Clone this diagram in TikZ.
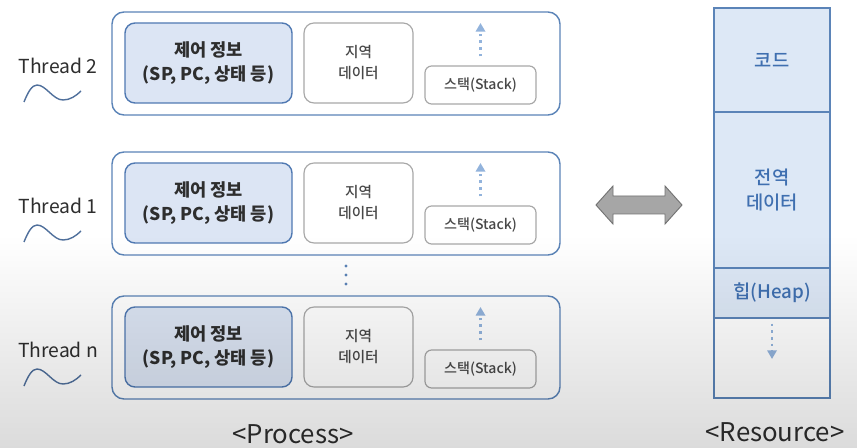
\documentclass[tikz,border=0pt]{standalone}
\usepackage{fontspec}
\setmainfont{Noto Sans CJK KR}
\newfontfamily\medfont{Noto Sans CJK KR Medium}
\usetikzlibrary{arrows.meta,fadings}
\definecolor{frameblue}{HTML}{5B84B8}
\definecolor{ctrlblue}{HTML}{5079B2}
\definecolor{ctrlfill}{HTML}{DCE5F4}
\definecolor{resfill}{HTML}{DDE8F6}
\definecolor{boxgray}{HTML}{A8A8A8}
\definecolor{textdark}{HTML}{2E2E2E}
\definecolor{textgray}{HTML}{484848}
\definecolor{textblue}{HTML}{3F6FB0}
\definecolor{dotblue}{HTML}{92B3DC}
\definecolor{wavecol}{HTML}{50709C}
\tikzfading[name=fadedown, top color=transparent!100, bottom color=transparent!0]

\begin{document}
\begin{tikzpicture}[x=0.3mm, y=-0.3mm,
    threadbox/.style={draw=frameblue, line width=1.2pt, rounded corners=3.6mm,
      minimum width=134.4mm, minimum height=30.9mm},
    ctrlbox/.style={draw=ctrlblue, fill=ctrlfill, line width=1.2pt, rounded corners=3mm,
      minimum width=50.1mm, minimum height=24mm, align=center, text=textdark,
      font=\fontsize{15}{20.4}\selectfont\bfseries},
    localbox/.style={draw=boxgray, fill=white, line width=1pt, rounded corners=3mm,
      minimum width=32.7mm, minimum height=24mm, align=center, text=textgray,
      font=\medfont\fontsize{12.5}{17.9}\selectfont},
    stackbox/.style={draw=boxgray, fill=white, line width=1pt, rounded corners=2mm,
      minimum width=33.3mm, minimum height=11.4mm, text=textgray,
      font=\medfont\fontsize{12}{14}\selectfont},
    resbox/.style={draw=frameblue, line width=1pt, minimum width=34.8mm, inner sep=0pt,
      align=center, text=textblue, font=\medfont\fontsize{16}{22}\selectfont},
    growarrow/.style={-{Triangle[width=2.8mm, length=2.6mm]}, dotblue, line width=0.8mm,
      dash pattern=on 0.8mm off 1.2mm},
    wave/.style={wavecol, line width=1.2pt},
    labelnode/.style={text=textdark, font=\fontsize{16.5}{20}\selectfont},
    titlenode/.style={text=textdark, font=\fontsize{22}{26}\selectfont}]
\useasboundingbox (0,0) rectangle (858,448);
\fill[white] (0,0) rectangle (858,448);
% threads
\foreach \name/\t/\lbl in {two/12/Thread 2, one/152/Thread 1, n/296/Thread n} {
    \node[threadbox] (thread-\name) at (336,\t+51.5) {};
    \node[ctrlbox] (ctrl-\name) at (208.5,\t+51) {제어 정보\\(SP, PC, 상태 등)};
    \node[localbox] (local-\name) at (358.5,\t+51) {지역\\데이터};
    \node[stackbox] (stack-\name) at (480.5,\t+73) {스택(Stack)};
    \coordinate (top-\name) at (480.5,\t+11);
    \draw[growarrow, shorten <=2.7mm] (stack-\name.north) -- (top-\name);
    \node[labelnode] (label-\name) at (58,\t+54) {\lbl};
    \draw[wave] (24,\t+90) .. controls (28,\t+80) and (32,\t+73) .. (37,\t+73)
        .. controls (46,\t+73) and (53,\t+88) .. (63,\t+88)
        .. controls (70,\t+88) and (76,\t+84) .. (81,\t+79);
}
% more threads
\foreach \y in {266,275,284} {
    \fill[frameblue] (346,\y) circle (1.7);
}
% resource column
\node[resbox, fill=resfill, minimum height=31.2mm] (code) at (772,60) {코드};
\node[resbox, fill=resfill, minimum height=46.8mm] (global) at (772,190) {전역\\데이터};
\node[resbox, fill=resfill, minimum height=15mm] (heap) at (772,293) {힙(Heap)};
\node[resbox, minimum height=24mm] (free) at (772,358) {};
\coordinate (heapend) at (772,359);
\draw[growarrow, shorten <=1.5mm] (heap.south) -- (heapend);
% shared
\draw[fill=gray!70, draw=gray!90!black, line width=0.8pt]
    (596,205) -- (613,186) -- (613,196) -- (665,196) -- (665,186) -- (682,205)
    -- (665,224) -- (665,214) -- (613,214) -- (613,224) -- cycle;
% titles
\node[titlenode] (process) at (293,434) {<Process>};
\node[titlenode] (resource) at (775,432) {<Resource>};
% shade
\fill[black, opacity=0.14, path fading=fadedown] (0,235) rectangle (858,448);
\end{tikzpicture}
\end{document}
